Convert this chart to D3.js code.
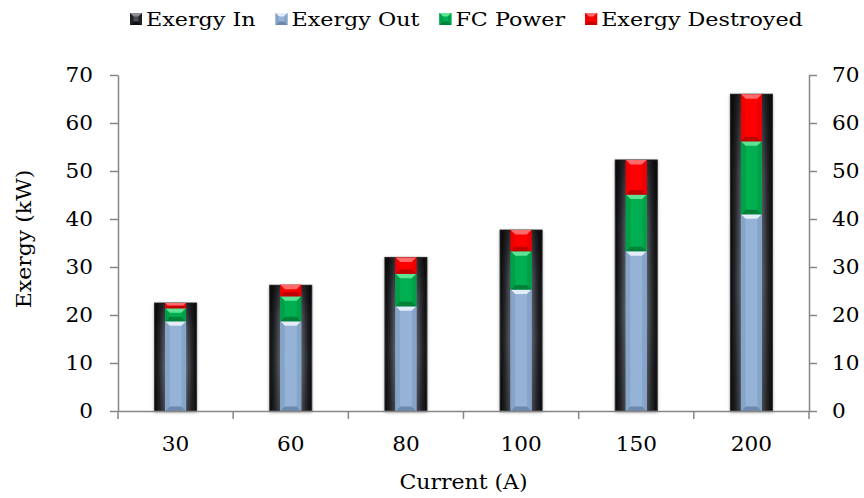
<!DOCTYPE html>
<html>
<head>
<meta charset="utf-8">
<script src="https://cdn.jsdelivr.net/npm/d3@7/dist/d3.min.js"></script>
<style>
  html, body { margin: 0; padding: 0; background: #fff; }
  svg { display: block; }
  text { font-family: "DejaVu Serif", "Liberation Serif", serif; fill: #000; }
</style>
</head>
<body>
<svg id="chart" width="864" height="498"></svg>
<script>
// ---- data ----
const categories = ["30", "60", "80", "100", "150", "200"];
const exergyIn = [22.5, 26.2, 32.0, 37.7, 52.3, 66.0];
const exergyOut = [18.7, 18.7, 21.8, 25.3, 33.3, 41.0];
const fcPower = [2.7, 5.2, 6.8, 8.0, 11.8, 15.2];
const exergyDestroyed = [1.1, 2.4, 3.4, 4.4, 7.2, 9.8];
const yTicks = [0, 10, 20, 30, 40, 50, 60, 70];
const legendNames = ["Exergy In", "Exergy Out", "FC Power", "Exergy Destroyed"];

const W = 864, H = 498;
const margin = { left: 118, right: 55, top: 75, bottom: 87 };
const svg = d3.select("#chart");
const defs = svg.append("defs");

const x = d3.scaleBand().domain(categories).range([margin.left, W - margin.right]).paddingInner(0).paddingOuter(0);
const y = d3.scaleLinear().domain([0, 70]).range([H - margin.bottom, margin.top]);

const axisColor = "#868686";

function stretch(sel, k) {
  sel.each(function () {
    const len = this.getComputedTextLength();
    d3.select(this).attr("textLength", len * k).attr("lengthAdjust", "spacingAndGlyphs");
  });
}

// gradients
const gIn = defs.append("linearGradient").attr("id", "gIn").attr("x1", 0).attr("x2", 1).attr("y1", 0).attr("y2", 0);
[[0, "#0a0a0a"], [0.12, "#2a2c30"], [0.3, "#6f7683"], [0.42, "#8e96a6"], [0.5, "#7c8391"], [0.58, "#8e96a6"], [0.7, "#6f7683"], [0.88, "#2a2c30"], [1, "#0a0a0a"]]
  .forEach(([o, c]) => gIn.append("stop").attr("offset", o).attr("stop-color", c));
const gInV = defs.append("linearGradient").attr("id", "gInV").attr("x1", 0).attr("x2", 0).attr("y1", 0).attr("y2", 1);
[[0, "rgba(0,0,0,0.55)"], [0.25, "rgba(0,0,0,0.15)"], [0.6, "rgba(0,0,0,0)"], [1, "rgba(0,0,0,0.25)"]]
  .forEach(([o, c]) => gInV.append("stop").attr("offset", o).attr("stop-color", c));

const filt = defs.append("filter").attr("id", "shadow").attr("x", "-20%").attr("y", "-5%").attr("width", "140%").attr("height", "110%");
filt.append("feGaussianBlur").attr("in", "SourceAlpha").attr("stdDeviation", 1.5).attr("result", "b");
filt.append("feOffset").attr("in", "b").attr("dx", 0).attr("dy", 1).attr("result", "o");
filt.append("feComponentTransfer").attr("in", "o").attr("result", "o2").append("feFuncA").attr("type", "linear").attr("slope", 0.35);
const fm = filt.append("feMerge");
fm.append("feMergeNode").attr("in", "o2");
fm.append("feMergeNode").attr("in", "SourceGraphic");

const palettes = {
  "Exergy Out": { face: "#95b3d7", top: "#e2edf9", bottom: "#6c88ad", side: "#86a3c8" },
  "FC Power": { face: "#00b050", top: "#5fe396", bottom: "#00813a", side: "#00a049" },
  "Exergy Destroyed": { face: "#ff0000", top: "#ff6a6a", bottom: "#c20000", side: "#ee0000" }
};

function bevel(g, x0, y0, w, h, pal, b) {
  b = Math.min(b, h / 2, w / 2);
  g.append("rect").attr("x", x0).attr("y", y0).attr("width", w).attr("height", h).attr("fill", pal.face);
  g.append("polygon").attr("points", [[x0, y0], [x0 + w, y0], [x0 + w - b, y0 + b], [x0 + b, y0 + b]].join(" ")).attr("fill", pal.top);
  g.append("polygon").attr("points", [[x0, y0 + h], [x0 + w, y0 + h], [x0 + w - b, y0 + h - b], [x0 + b, y0 + h - b]].join(" ")).attr("fill", pal.bottom);
  g.append("polygon").attr("points", [[x0, y0], [x0 + b, y0 + b], [x0 + b, y0 + h - b], [x0, y0 + h]].join(" ")).attr("fill", pal.side);
  g.append("polygon").attr("points", [[x0 + w, y0], [x0 + w - b, y0 + b], [x0 + w - b, y0 + h - b], [x0 + w, y0 + h]].join(" ")).attr("fill", pal.side);
}

// ---- outer bars (Exergy In) ----
const outerW = 42, innerW = 21;
const outer = svg.append("g");
categories.forEach((c, i) => {
  const cx = x(c) + x.bandwidth() / 2;
  const g = outer.append("g").attr("filter", "url(#shadow)");
  g.append("rect").attr("x", cx - outerW / 2).attr("y", y(exergyIn[i])).attr("width", outerW).attr("height", y(0) - y(exergyIn[i]))
    .attr("fill", "url(#gIn)").attr("stroke", "#3a3a3a").attr("stroke-width", 1);
  g.append("rect").attr("x", cx - outerW / 2).attr("y", y(exergyIn[i])).attr("width", outerW).attr("height", y(0) - y(exergyIn[i]))
    .attr("fill", "url(#gInV)");
});

// ---- inner stacks ----
const stackData = categories.map((c, i) => ({ cat: c, "Exergy Out": exergyOut[i], "FC Power": fcPower[i], "Exergy Destroyed": exergyDestroyed[i] }));
const keys = ["Exergy Out", "FC Power", "Exergy Destroyed"];
const series = d3.stack().keys(keys)(stackData);
const inner = svg.append("g");
series.forEach(s => {
  s.forEach(d => {
    const cx = x(d.data.cat) + x.bandwidth() / 2;
    const y0 = y(d[1]), h = y(d[0]) - y(d[1]);
    bevel(inner.append("g"), cx - innerW / 2, y0, innerW, h, palettes[s.key], 4.5);
  });
});

// ---- axes ----
const fs = 20;
const left = svg.append("g").attr("transform", `translate(${margin.left},0)`)
  .call(d3.axisLeft(y).tickValues(yTicks).tickSize(8).tickPadding(17).tickSizeOuter(0));
const right = svg.append("g").attr("transform", `translate(${W - margin.right},0)`)
  .call(d3.axisRight(y).tickValues(yTicks).tickSize(8).tickPadding(15).tickSizeOuter(0));
[left, right].forEach(a => {
  a.select(".domain").attr("stroke", axisColor).attr("stroke-width", 1.5);
  a.selectAll(".tick line").attr("stroke", axisColor).attr("stroke-width", 1.5);
  a.selectAll(".tick text").attr("font-size", fs).attr("font-family", "DejaVu Serif").attr("fill", "#000");
  stretch(a.selectAll(".tick text"), 1.08);
});

// x axis
const xa = svg.append("g").attr("transform", `translate(0,${y(0)})`)
  .call(d3.axisBottom(x).tickSize(0).tickPadding(26).tickSizeOuter(0));
xa.select(".domain").attr("stroke", axisColor).attr("stroke-width", 1.5);
xa.selectAll(".tick text").attr("font-size", fs).attr("font-family", "DejaVu Serif").attr("fill", "#000");
stretch(xa.selectAll(".tick text"), 1.08);
const bounds = categories.map(c => x(c)).concat([x(categories[categories.length - 1]) + x.bandwidth()]);
xa.selectAll(".btick").data(bounds).join("line").attr("class", "btick")
  .attr("x1", d => d).attr("x2", d => d).attr("y1", 0).attr("y2", 8)
  .attr("stroke", axisColor).attr("stroke-width", 1.5);

// axis titles
const xt = svg.append("text").attr("x", (margin.left + W - margin.right) / 2).attr("y", 489).attr("text-anchor", "middle")
  .attr("font-size", fs).text("Current (A)");
stretch(xt, 1.1);
const yt = svg.append("text").attr("transform", `translate(31,239) rotate(-90)`).attr("text-anchor", "middle")
  .attr("font-size", 20).text("Exergy (kW)");
stretch(yt, 1.1);

// ---- legend ----
const legPal = {
  "Exergy In": { face: "#4a4e55", top: "#8a8f98", bottom: "#111", side: "#222" },
  "Exergy Out": palettes["Exergy Out"], "FC Power": palettes["FC Power"], "Exergy Destroyed": palettes["Exergy Destroyed"]
};
const leg = svg.append("g").attr("transform", "translate(130,0)");
let lx = 0;
const legK = 1.17, legGap = 20;
legendNames.forEach(n => {
  const g = leg.append("g").attr("transform", `translate(${lx},0)`);
  bevel(g, 0, 13, 12, 12, legPal[n], 3.5);
  const t = g.append("text").attr("x", 16).attr("y", 26).attr("font-size", 19).text(n);
  const w = t.node().getComputedTextLength() * legK;
  t.attr("textLength", w).attr("lengthAdjust", "spacingAndGlyphs");
  lx += 16 + w + legGap;
});
</script>
</body>
</html>
